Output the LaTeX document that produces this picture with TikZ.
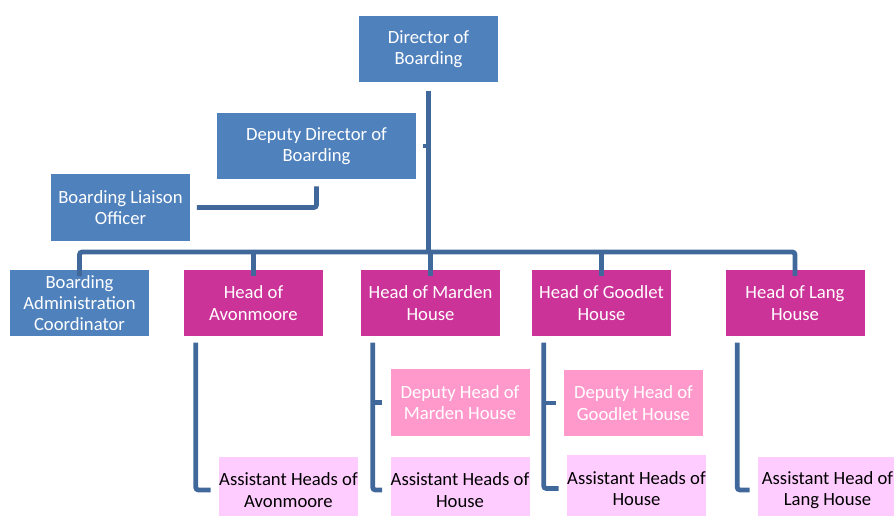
\documentclass[tikz,border=0pt]{standalone}
\usepackage{fontspec}
\setmainfont{Carlito}
\usepackage{tikz}
\usetikzlibrary{positioning,calc}
\definecolor{BoardBlue}{HTML}{4F81BD}
\definecolor{LinkBlue}{HTML}{41689A}
\definecolor{HouseMagenta}{HTML}{CC3399}
\definecolor{DeputyPink}{HTML}{FF99CC}
\definecolor{AssistPink}{HTML}{FFCCFF}
\tikzset{
  role/.style={fill=BoardBlue,text=white,align=center,inner sep=0pt,
    minimum width=104.25pt,minimum height=50pt,font=\fontsize{14}{16}\selectfont},
  house/.style={role,fill=HouseMagenta},
  deputyhead/.style={role,fill=DeputyPink},
  assistant/.style={role,fill=AssistPink,text=black},
  link/.style={draw=LinkBlue,line width=3.6pt,rounded corners=2pt}
}
\begin{document}
\begin{tikzpicture}[x=0.75pt,y=-0.75pt]
  \useasboundingbox (0,0) rectangle (894,516);
  % top level
  \node[role] (director) at (428.5,49) {Director of\\Boarding};
  \node[role,minimum width=149.25pt] (deputy) at (316.5,146) {Deputy Director of\\Boarding};
  \node[role] (liaison) at (120.5,207.5) {Boarding Liaison\\Officer};
  % second row
  \node[role] (admin) at (79.5,303) {Boarding\\Administration\\Coordinator};
  \node[house] (avon) at (253.5,303) {Head of\\Avonmoore};
  \node[house] (marden) at (430.5,303) {Head of Marden\\House};
  \node[house] (goodlet) at (601.5,303) {Head of Goodlet\\House};
  \node[house] (lang) at (795,303) {Head of Lang\\House};
  % house staff
  \node[deputyhead] (depmarden) at (460,402.5) {Deputy Head of\\Marden House};
  \node[deputyhead] (depgoodlet) at (633.5,403) {Deputy Head of\\Goodlet House};
  \node[assistant] (asstavon) at (288.5,490) {Assistant Heads of\\Avonmoore};
  \node[assistant] (asstmarden) at (460,490) {Assistant Heads of\\House};
  \node[assistant] (asstgoodlet) at (636.5,488.5) {Assistant Heads of\\House};
  \node[assistant] (asstlang) at (827.5,490) {Assistant Head of\\Lang House};

  \coordinate (bus) at (0,252);
  \draw[link] ([yshift=-6]director.south) -- (director.south |- bus);
  \draw[link] ([xshift=5]deputy.east) -- (deputy.east -| director.south);
  \draw[link] ([yshift=-5]deputy.south) |- ([xshift=5]liaison.east);
  \draw[link] ([yshift=-5]admin.north) -- (admin.north |- bus)
    -- (lang.north |- bus) -- ([yshift=-5]lang.north);
  \foreach \n in {avon,marden,goodlet}
    \draw[link] ([yshift=-5]\n.north) -- (\n.north |- bus);

  % house lines
  \foreach \n/\a in {avon/asstavon,marden/asstmarden,goodlet/asstgoodlet,lang/asstlang}
    \draw[link] ($(\n.south west)+(12,6)$) |- ([xshift=-6]\a.west);
  \draw[link] ([xshift=-6]depmarden.west) -- (depmarden.west -| {$(marden.south west)+(12,0)$});
  \draw[link] ([xshift=-6]depgoodlet.west) -- (depgoodlet.west -| {$(goodlet.south west)+(12,0)$});
\end{tikzpicture}
\end{document}
